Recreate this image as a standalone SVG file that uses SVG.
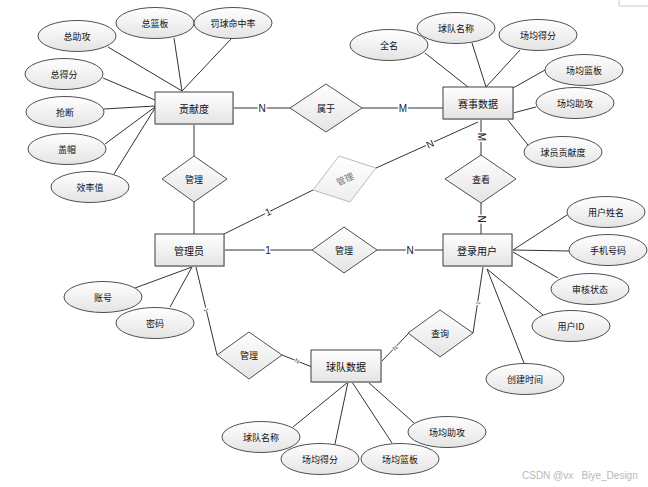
<svg xmlns="http://www.w3.org/2000/svg" width="648" height="487" viewBox="0 0 648 487">
<defs>
<linearGradient id="g" x1="0" y1="0" x2="0" y2="1"><stop offset="0" stop-color="#ffffff"/><stop offset="1" stop-color="#e4e4e4"/></linearGradient>
<linearGradient id="gl" x1="0" y1="0" x2="0" y2="1"><stop offset="0" stop-color="#ffffff"/><stop offset="1" stop-color="#eeeeee"/></linearGradient>
<style>
.e rect{fill:url(#g);stroke:#404040;stroke-width:1}
.e rect.sh{fill:#dddddd;stroke:none}
.a ellipse{fill:url(#g);stroke:#505050;stroke-width:1}
.r polygon{fill:url(#g);stroke:#505050;stroke-width:1}
.t{font-family:"Noto Sans CJK SC","Liberation Sans",sans-serif;font-size:9px;fill:#111;text-anchor:middle;dominant-baseline:central}
.te{font-family:"Noto Sans CJK SC","Liberation Sans",sans-serif;font-size:10px;fill:#111;text-anchor:middle;dominant-baseline:central}
#conn line,#conn polyline{stroke:#333;stroke-width:1;fill:none}
.lb{font-family:"Liberation Sans",sans-serif;font-size:10px;fill:#222;text-anchor:middle;dominant-baseline:central;stroke:#ffffff;stroke-width:3px;paint-order:stroke}
.ls{font-family:"Liberation Sans",sans-serif;font-size:6px;fill:#444;text-anchor:middle;dominant-baseline:central;stroke:#ffffff;stroke-width:2px;paint-order:stroke}
</style>
</defs>
<rect width="648" height="487" fill="#ffffff"/>
<path d="M619 0V6H648" fill="none" stroke="#cccccc"/>
<g id="conn">
<line x1="108" y1="47" x2="182" y2="91"/>
<line x1="174" y1="38" x2="182" y2="91"/>
<line x1="232" y1="38" x2="182" y2="91"/>
<line x1="103" y1="78" x2="155" y2="100"/>
<line x1="104" y1="109" x2="155" y2="106"/>
<line x1="105" y1="144" x2="155" y2="107"/>
<line x1="114" y1="174" x2="155" y2="108"/>
<line x1="233" y1="108" x2="290" y2="108"/>
<line x1="362" y1="108" x2="443" y2="108"/>
<line x1="194" y1="124" x2="194" y2="156"/>
<line x1="194" y1="202" x2="194" y2="234"/>
<line x1="425" y1="53" x2="468" y2="87"/>
<line x1="472" y1="43" x2="486" y2="87"/>
<line x1="520" y1="50" x2="486" y2="87"/>
<line x1="545" y1="70" x2="513" y2="88"/>
<line x1="536" y1="107" x2="513" y2="113"/>
<line x1="528" y1="145" x2="507" y2="119"/>
<line x1="481" y1="119" x2="481" y2="155"/>
<line x1="481" y1="203" x2="481" y2="234"/>
<line x1="478" y1="122" x2="376" y2="168"/>
<line x1="224" y1="234" x2="313" y2="190"/>
<line x1="224" y1="250" x2="312" y2="250"/>
<line x1="377" y1="250" x2="443" y2="250"/>
<line x1="135" y1="288" x2="192" y2="267"/>
<line x1="170" y1="307" x2="192" y2="267"/>
<polyline points="196,267 217,355"/>
<line x1="282" y1="355" x2="312" y2="367"/>
<line x1="567" y1="215" x2="513" y2="250"/>
<line x1="569" y1="251" x2="513" y2="250"/>
<line x1="558" y1="278" x2="513" y2="252"/>
<line x1="543" y1="315" x2="487" y2="269"/>
<line x1="524" y1="363" x2="487" y2="269"/>
<line x1="483" y1="267" x2="473" y2="333"/>
<line x1="408" y1="334" x2="381" y2="362"/>
<line x1="293" y1="427" x2="348" y2="382"/>
<line x1="335" y1="444" x2="348" y2="382"/>
<line x1="392" y1="443" x2="352" y2="382"/>
<line x1="414" y1="423" x2="368" y2="382"/>
<text class="lb" x="262" y="108">N</text>
<text class="lb" x="403" y="108">M</text>
<text class="lb" x="481" y="137" transform="rotate(90 481 137)">M</text>
<text class="lb" x="481" y="219" transform="rotate(90 481 219)">N</text>
<text class="lb" x="430" y="144" transform="rotate(-25 430 144)">N</text>
<text class="lb" x="268" y="212" transform="rotate(-25 268 212)">1</text>
<text class="lb" x="268" y="250">1</text>
<text class="lb" x="410" y="250">N</text>
<text class="ls" x="206" y="310" transform="rotate(77 206 310)">1</text>
<text class="ls" x="297" y="361" transform="rotate(22 297 361)">N</text>
<text class="ls" x="478" y="303" transform="rotate(-82 478 303)">1</text>
<text class="ls" x="395" y="348" transform="rotate(-45 395 348)">N</text>
</g>
<g id="e_gongxiandu" class="e"><rect class="sh" x="156" y="93" width="78" height="32"/><rect x="155" y="92" width="78" height="32"/><text class="te" x="194" y="108">贡献度</text></g>
<g id="e_saishi" class="e"><rect class="sh" x="444" y="88" width="70" height="32"/><rect x="443" y="87" width="70" height="32"/><text class="te" x="478" y="103">赛事数据</text></g>
<g id="e_guanliyuan" class="e"><rect class="sh" x="156" y="235" width="69" height="32"/><rect x="155" y="234" width="69" height="32"/><text class="te" x="189" y="250">管理员</text></g>
<g id="e_denglu" class="e"><rect class="sh" x="444" y="235" width="69" height="32"/><rect x="443" y="234" width="69" height="32"/><text class="te" x="477" y="250">登录用户</text></g>
<g id="e_qiudui" class="e"><rect class="sh" x="312" y="351" width="70" height="32"/><rect x="311" y="350" width="70" height="32"/><text class="te" x="346" y="366">球队数据</text></g>
<g id="r_shuyu" class="r"><polygon points="326,84 362,108 326,132 290,108"/><text class="t" x="326" y="108">属于</text></g>
<g id="r_guanli1" class="r"><polygon points="194,156 227,179 194,202 162,179"/><text class="t" x="194" y="179">管理</text></g>
<g id="r_guanli_gray"><polygon points="339,156 376,168 350,202 313,190" fill="url(#gl)" stroke="#bbbbbb"/><text class="t" x="345" y="179" style="fill:#777" transform="rotate(-25 345 179)">管理</text></g>
<g id="r_chakan" class="r"><polygon points="481,155 516,179 481,203 445,179"/><text class="t" x="481" y="179">查看</text></g>
<g id="r_guanli2" class="r"><polygon points="344,227 377,250 344,273 312,250"/><text class="t" x="344" y="250">管理</text></g>
<g id="r_chaxun" class="r"><polygon points="440,310 473,333 440,357 408,333"/><text class="t" x="440" y="333">查询</text></g>
<g id="r_guanli3" class="r"><polygon points="249,332 282,355 249,379 217,355"/><text class="t" x="249" y="355">管理</text></g>
<g id="a_zongzhugong" class="a"><ellipse cx="77" cy="36" rx="39" ry="15.5"/><text class="t" x="77" y="36">总助攻</text></g>
<g id="a_zonglanban" class="a"><ellipse cx="155" cy="23" rx="39" ry="15.5"/><text class="t" x="155" y="23">总篮板</text></g>
<g id="a_faqiu" class="a"><ellipse cx="233" cy="23" rx="39" ry="15.5"/><text class="t" x="233" y="23">罚球命中率</text></g>
<g id="a_zongdefen" class="a"><ellipse cx="64" cy="74" rx="39" ry="15.5"/><text class="t" x="64" y="74">总得分</text></g>
<g id="a_qiangduan" class="a"><ellipse cx="65" cy="112" rx="39" ry="15.5"/><text class="t" x="65" y="112">抢断</text></g>
<g id="a_gaimao" class="a"><ellipse cx="67" cy="149" rx="39" ry="15.5"/><text class="t" x="67" y="149">盖帽</text></g>
<g id="a_xiaolv" class="a"><ellipse cx="90" cy="187" rx="39" ry="15.5"/><text class="t" x="90" y="187">效率值</text></g>
<g id="a_quanming" class="a"><ellipse cx="389" cy="45" rx="39" ry="15.5"/><text class="t" x="389" y="45">全名</text></g>
<g id="a_qiuduimc1" class="a"><ellipse cx="456" cy="28" rx="39" ry="15.5"/><text class="t" x="456" y="28">球队名称</text></g>
<g id="a_cjdf1" class="a"><ellipse cx="538" cy="35" rx="39" ry="15.5"/><text class="t" x="538" y="35">场均得分</text></g>
<g id="a_cjlb1" class="a"><ellipse cx="584" cy="70" rx="39" ry="15.5"/><text class="t" x="584" y="70">场均篮板</text></g>
<g id="a_cjzg1" class="a"><ellipse cx="575" cy="103" rx="39" ry="15.5"/><text class="t" x="575" y="103">场均助攻</text></g>
<g id="a_qiuyuan" class="a"><ellipse cx="563" cy="152" rx="39" ry="15.5"/><text class="t" x="563" y="152">球员贡献度</text></g>
<g id="a_zhanghao" class="a"><ellipse cx="103" cy="297" rx="39" ry="15.5"/><text class="t" x="103" y="297">账号</text></g>
<g id="a_mima" class="a"><ellipse cx="155" cy="323" rx="39" ry="15.5"/><text class="t" x="155" y="323">密码</text></g>
<g id="a_yhxm" class="a"><ellipse cx="606" cy="212" rx="39" ry="15.5"/><text class="t" x="606" y="212">用户姓名</text></g>
<g id="a_sjhm" class="a"><ellipse cx="608" cy="250" rx="39" ry="15.5"/><text class="t" x="608" y="250">手机号码</text></g>
<g id="a_shzt" class="a"><ellipse cx="590" cy="289" rx="39" ry="15.5"/><text class="t" x="590" y="289">审核状态</text></g>
<g id="a_yhid" class="a"><ellipse cx="571" cy="326" rx="39" ry="15.5"/><text class="t" x="571" y="326">用户ID</text></g>
<g id="a_cjsj" class="a"><ellipse cx="525" cy="379" rx="39" ry="15.5"/><text class="t" x="525" y="379">创建时间</text></g>
<g id="a_qiuduimc2" class="a"><ellipse cx="261" cy="437" rx="39" ry="15.5"/><text class="t" x="261" y="437">球队名称</text></g>
<g id="a_cjdf2" class="a"><ellipse cx="320" cy="459" rx="39" ry="15.5"/><text class="t" x="320" y="459">场均得分</text></g>
<g id="a_cjlb2" class="a"><ellipse cx="400" cy="459" rx="39" ry="15.5"/><text class="t" x="400" y="459">场均篮板</text></g>
<g id="a_cjzg2" class="a"><ellipse cx="447" cy="432" rx="39" ry="15.5"/><text class="t" x="447" y="432">场均助攻</text></g>
<text x="522" y="479" font-family="Liberation Sans, sans-serif" font-size="10" fill="#b8b8b8" xml:space="preserve">CSDN @vx   Biye_Design</text>
</svg>
